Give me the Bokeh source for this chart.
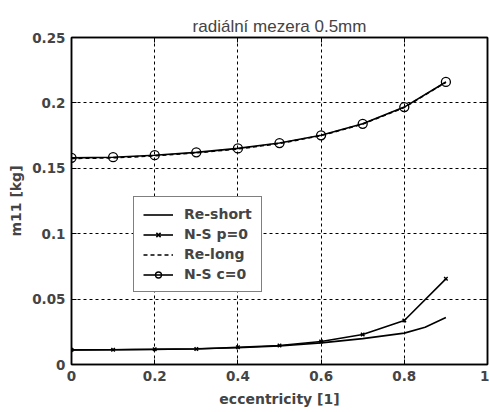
from bokeh.plotting import figure
from bokeh.models import (Range1d, LinearAxis, FixedTicker, Legend, LegendItem)
from bokeh.embed import file_html
from bokeh.resources import INLINE

ecc = [0.0, 0.1, 0.2, 0.3, 0.4, 0.5, 0.6, 0.7, 0.8, 0.9]
re_short_x = [0.0, 0.1, 0.2, 0.3, 0.4, 0.5, 0.6, 0.7, 0.8, 0.85, 0.9]
re_short_y = [0.0112, 0.0113, 0.0116, 0.012, 0.0128, 0.0142, 0.0165, 0.0198, 0.024, 0.0285, 0.036]
ns_p0 = [0.0112, 0.0113, 0.0117, 0.0118, 0.0132, 0.0145, 0.0176, 0.0229, 0.0336, 0.0655]
re_long = [0.1575, 0.158, 0.1595, 0.1618, 0.1648, 0.169, 0.175, 0.1838, 0.1965, 0.2158]
ns_c0 = [0.158, 0.1585, 0.16, 0.1622, 0.1652, 0.1693, 0.1752, 0.184, 0.1968, 0.216]

x_ticks = [0, 0.2, 0.4, 0.6, 0.8, 1]
x_labels = ["0", "0.2", "0.4", "0.6", "0.8", "1"]
y_ticks = [0, 0.05, 0.1, 0.15, 0.2, 0.25]
y_labels = ["0", "0.05", "0.1", "0.15", "0.2", "0.25"]

BOLD_FONT = "DejaVu Sans"
TITLE_FONT = "Liberation Sans"

p = figure(width=489, height=412, output_backend="svg", toolbar_location=None,
           x_range=Range1d(0, 1), y_range=Range1d(0, 0.25),
           min_border_left=71, min_border_right=2, min_border_top=37, min_border_bottom=48)
p.title.text = "radiální mezera 0.5mm"
p.title.align = "center"
p.title.text_font = TITLE_FONT
p.title.text_font_style = "normal"
p.title.text_font_size = "17px"
p.title.offset = 0
p.title.standoff = 4

p.outline_line_color = "black"
p.outline_line_width = 1.5
p.background_fill_color = "white"
p.border_fill_color = "white"

for ax in [p.xaxis[0], p.yaxis[0]]:
    ax.major_label_text_font = BOLD_FONT
    ax.major_label_text_font_style = "bold"
    ax.major_label_text_font_size = "13.5px"
    ax.axis_label_text_font = BOLD_FONT
    ax.axis_label_text_font_style = "bold"
    ax.axis_label_text_font_size = "14px"
    ax.major_tick_in = 5
    ax.major_tick_out = 0
    ax.minor_tick_line_color = None
    ax.axis_line_width = 1.5
    ax.major_tick_line_width = 1
    ax.major_label_standoff = 6

p.xaxis[0].ticker = FixedTicker(ticks=x_ticks)
p.xaxis[0].major_label_overrides = dict(zip(x_ticks, x_labels))
p.xaxis[0].axis_label = "eccentricity [1]"
p.xaxis[0].axis_label_standoff = 7
p.yaxis[0].ticker = FixedTicker(ticks=y_ticks)
p.yaxis[0].major_label_overrides = dict(zip(y_ticks, y_labels))
p.yaxis[0].axis_label = "m11 [kg]"
p.yaxis[0].axis_label_standoff = 5

for loc in ["above", "right"]:
    a = LinearAxis(ticker=FixedTicker(ticks=x_ticks if loc == "above" else y_ticks))
    a.major_label_text_font_size = "7px" if loc == "above" else "1px"
    a.major_label_text_color = None
    a.major_tick_in = 5
    a.major_tick_out = 0
    a.minor_tick_line_color = None
    a.axis_line_width = 1.5
    a.major_label_standoff = 0
    p.add_layout(a, loc)

p.xgrid.ticker = FixedTicker(ticks=x_ticks)
p.ygrid.ticker = FixedTicker(ticks=y_ticks)
for g in [p.xgrid[0], p.ygrid[0]]:
    g.grid_line_color = "black"
    g.grid_line_dash = "3 3"
    g.grid_line_width = 1

lw = 1.6
r1 = p.line(re_short_x, re_short_y, line_color="black", line_width=lw)
r2 = p.line(ecc, ns_p0, line_color="black", line_width=lw)
r2m = p.scatter(ecc, ns_p0, marker="x", size=5, line_color="black", line_width=1.5)
r3 = p.line(ecc, re_long, line_color="black", line_width=lw, line_dash="4 3")
r4 = p.line(ecc, ns_c0, line_color="black", line_width=lw)
r4m = p.scatter(ecc, ns_c0, marker="circle", size=9, line_color="black",
                fill_color=None, line_width=1.3)

legend = Legend(items=[
    LegendItem(label="Re-short", renderers=[r1]),
    LegendItem(label="N-S p=0", renderers=[r2, r2m]),
    LegendItem(label="Re-long", renderers=[r3]),
    LegendItem(label="N-S c=0", renderers=[r4, r4m]),
], location=(62, 72))
legend.label_text_font = BOLD_FONT
legend.label_text_font_style = "bold"
legend.label_text_font_size = "14px"
legend.border_line_color = "black"
legend.border_line_width = 1.5
legend.glyph_width = 30
legend.glyph_height = 15
legend.label_height = 15
legend.spacing = 4
legend.padding = 9
legend.margin = 0
legend.label_standoff = 11
legend.background_fill_alpha = 1
p.add_layout(legend, "center")

open("out.html", "w").write(file_html(p, INLINE))
